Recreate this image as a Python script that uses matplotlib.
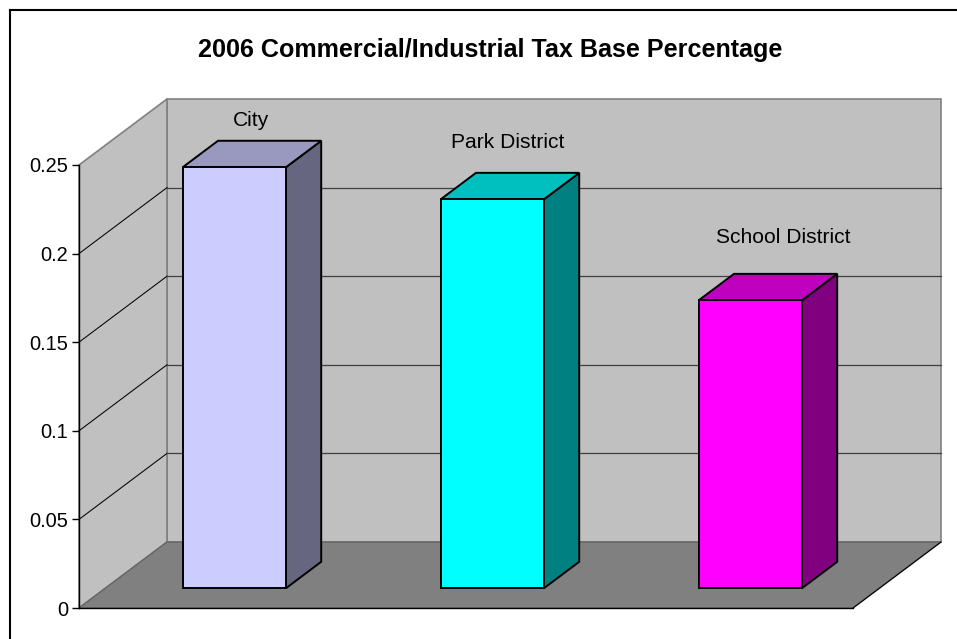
# -*- coding: utf-8 -*-
# excel style 3d column chart, depth is drawn by hand as a shear of the axes data coords
import matplotlib
matplotlib.use('Agg')
from matplotlib import pyplot as plt
from matplotlib.lines import Line2D

plt.rcParams['font.family'] = ['Liberation Sans', 'DejaVu Sans']

title = '2006 Commercial/Industrial Tax Base Percentage'
categories = ['City', 'Park District', 'School District']
values = [0.2376, 0.2195, 0.1625]
label_x = [0.496, 1.492, 2.558]
label_heights = [0.2567, 0.244, 0.1907]
yticks = [0, 0.05, 0.1, 0.15, 0.2, 0.25]
yticklabels = ['0', '0.05', '0.1', '0.15', '0.2', '0.25']
front_colors = ['#CCCCFF', '#00FFFF', '#FF00FF']
top_colors = ['#9999BF', '#00BFBF', '#BF00BF']
side_colors = ['#666680', '#008080', '#800080']

W, H = 957, 639
fig = plt.figure(figsize=(W / 100, H / 100), dpi=100)
ax = fig.add_axes([79 / W, 1 - 608 / H, 774 / W, 443 / H])
ax.set_xlim(0, 3)
ax.set_ylim(0, 0.25)
ax.patch.set_visible(False)

# one unit of depth in data units
DX = 88 / 774 * 3
DY = 66 / 443 * 0.25
BAR_L, BAR_R = 0.3, 0.7
D0, D1 = 0.3, 0.7


def pt(x, y, d):
    return (x + d * DX, y + d * DY)


def face(points, color, edge, lw, z):
    xs = [p[0] for p in points]
    ys = [p[1] for p in points]
    ax.fill(xs, ys, facecolor=color, edgecolor=edge, linewidth=lw, zorder=z,
            clip_on=False, joinstyle='miter')


def seg(a, b, color, lw, z):
    ax.plot([a[0], b[0]], [a[1], b[1]], color=color, lw=lw, zorder=z, clip_on=False)


top = yticks[-1]
# walls and floor
face([pt(0, 0, 1), pt(3, 0, 1), pt(3, top, 1), pt(0, top, 1)], '#C0C0C0', '#808080', 1.2, 1)
face([pt(0, 0, 0), pt(0, 0, 1), pt(0, top, 1), pt(0, top, 0)], '#C0C0C0', '#808080', 1.2, 1)
face([pt(0, 0, 0), pt(3, 0, 0), pt(3, 0, 1), pt(0, 0, 1)], '#808080', '#666666', 1.0, 2)

# gridlines, dark on the back wall and black on the side wall
for v in yticks[1:-1]:
    seg(pt(0, v, 0), pt(0, v, 1), 'black', 0.75, 3)
    seg(pt(0, v, 1), pt(3, v, 1), '#404040', 0.9, 3)

seg(pt(0, 0, 0), pt(3, 0, 0), 'black', 1.0, 4)
seg(pt(3, 0, 0), pt(3, 0, 1), 'black', 0.8, 4)

# bars
for i, v in enumerate(values):
    l, r = i + BAR_L, i + BAR_R
    face([pt(r, 0, D0), pt(r, 0, D1), pt(r, v, D1), pt(r, v, D0)], side_colors[i], 'black', 1.4, 5)
    face([pt(l, v, D0), pt(r, v, D0), pt(r, v, D1), pt(l, v, D1)], top_colors[i], 'black', 1.4, 5)
    face([pt(l, 0, D0), pt(r, 0, D0), pt(r, v, D0), pt(l, v, D0)], front_colors[i], 'black', 1.4, 6)
    x, y = pt(label_x[i], label_heights[i], 0.5)
    ax.text(x, y, categories[i], ha='center', va='center', fontsize=15.1, color='black', zorder=7)

for s in ['top', 'right', 'bottom']:
    ax.spines[s].set_visible(False)
ax.spines['left'].set_linewidth(1.0)
ax.spines['left'].set_zorder(8)
ax.set_xticks([])
ax.set_yticks(yticks)
ax.set_yticklabels(yticklabels, fontsize=14.4)
ax.tick_params(axis='y', length=5, width=1.0, pad=3)

fig.text(490.5 / W, 1 - 50.5 / H, title, ha='center', va='center', fontsize=18.1, fontweight='bold')

# frame runs off the right and bottom edge of the picture
fig.add_artist(Line2D([9.5 / W, 9.5 / W], [0, 1 - 9.5 / H], color='black', lw=1.5))
fig.add_artist(Line2D([9.5 / W, 1], [1 - 9.5 / H, 1 - 9.5 / H], color='black', lw=1.5))

fig.savefig('out.png', dpi=100)
